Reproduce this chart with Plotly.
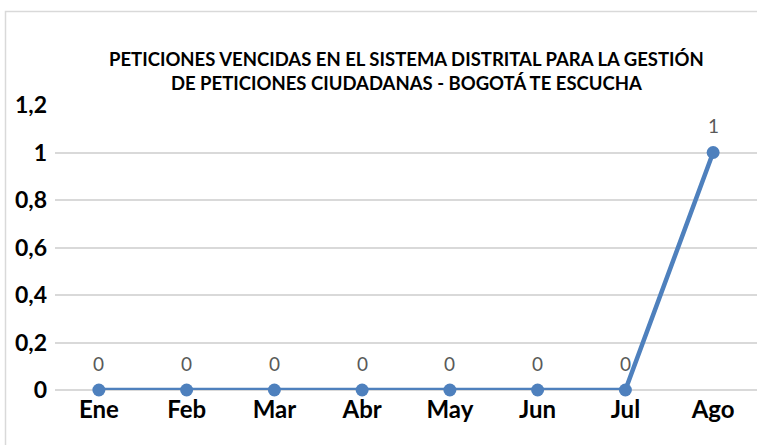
import plotly.graph_objects as go

months = ["Ene", "Feb", "Mar", "Abr", "May", "Jun", "Jul", "Ago"]
values = [0, 0, 0, 0, 0, 0, 0, 1]
y_ticks = [0, 0.2, 0.4, 0.6, 0.8, 1, 1.2]
y_tick_labels = ["0", "0,2", "0,4", "0,6", "0,8", "1", "1,2"]
title_text = ("PETICIONES VENCIDAS EN EL SISTEMA DISTRITAL PARA LA GESTIÓN<br>"
              "DE PETICIONES CIUDADANAS - BOGOTÁ TE ESCUCHA")

W, H = 757, 445
ml, mr, mt, mb = 55, 0, 105, 55
pw, ph = W - ml - mr, H - mt - mb

fig = go.Figure()
fig.add_trace(go.Scatter(
    x=months, y=values, mode="lines+markers",
    line=dict(color="#4E80BD", width=4.5),
    marker=dict(color="#4E80BD", size=13),
    cliponaxis=False, hoverinfo="skip",
))

for m, v in zip(months, values):
    fig.add_annotation(x=m, y=v, text=str(v), showarrow=False, yshift=27,
                       font=dict(family="Lato", size=19, color="#595959"))

fig.add_annotation(xref="paper", yref="paper", x=0.5, y=(390 - 71) / ph,
                   text=title_text, showarrow=False, align="center",
                   font=dict(family="Lato", size=18.5, color="#000000", weight="bold"),
                   xanchor="center", yanchor="middle")

fig.add_shape(type="rect", xref="paper", yref="paper",
              x0=(5.5 - ml) / pw, x1=1.2, y0=-0.5, y1=(390 - 11.5) / ph,
              line=dict(color="#D9D9D9", width=1.5), fillcolor="rgba(0,0,0,0)",
              layer="below")

fig.update_layout(
    width=W, height=H,
    margin=dict(l=ml, r=mr, t=mt, b=mb),
    paper_bgcolor="white", plot_bgcolor="white",
    showlegend=False,
    font=dict(family="Lato", color="#000000"),
    xaxis=dict(type="category", range=[-0.5, 7.5], showgrid=False,
               showline=False, zeroline=False,
               tickfont=dict(family="Lato", size=24, color="#000000", weight="bold"),
               ticks="", ticklabelstandoff=3),
    yaxis=dict(range=[0, 1.2], tickvals=y_ticks, ticktext=y_tick_labels,
               showgrid=True, gridcolor="#D9D9D9", gridwidth=1.5,
               zeroline=True, zerolinecolor="#D9D9D9", zerolinewidth=1.5,
               showline=False, ticks="", ticklabelstandoff=7,
               tickfont=dict(family="Lato", size=23, color="#000000", weight="bold")),
)

fig.write_html("out.html", config={"displayModeBar": False},
               post_script="document.body.style.margin='0';")
